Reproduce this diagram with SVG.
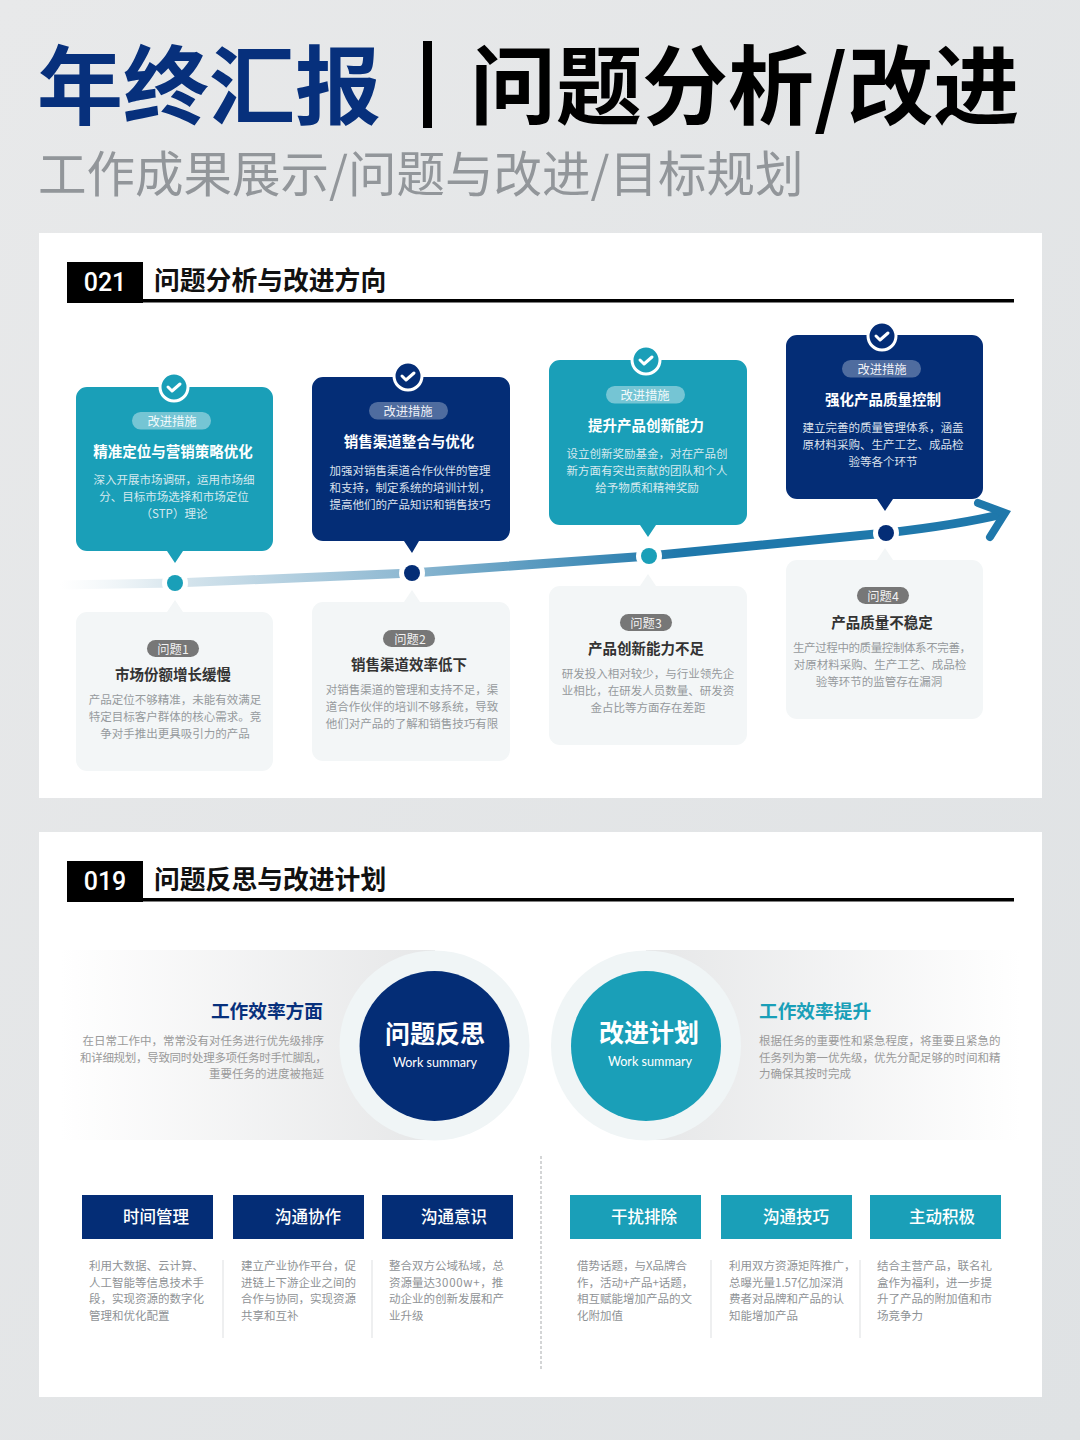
<svg xmlns="http://www.w3.org/2000/svg" width="1080" height="1440" viewBox="0 0 1080 1440">
<style>
text{font-family:"Noto Sans CJK SC","Noto Sans",sans-serif}
.c{text-anchor:middle}
.r{text-anchor:end}
.ti{font-size:14.5px;font-weight:700;fill:#fff}
.tb{font-size:11.5px;fill:#d6e9ef}
.tl{font-size:11.5px;fill:#dbe1ec}
.pill{font-size:12.3px;fill:#fff;fill-opacity:.92}
.qt{font-size:14.5px;font-weight:700;fill:#333}
.qb{font-size:11.5px;fill:#969a9d}
.qp{fill:#777}
.sh{font-size:25.8px;font-weight:700;fill:#111}
.no{font-size:25px;font-weight:500;fill:#fff;font-family:Roboto,sans-serif}
.bt{font-size:16.5px;font-weight:500;fill:#fff}
.bb{font-size:11.5px;fill:#8f9396}
.sb{font-size:11.5px;fill:#9a9a9a}
.ws{font-size:12.6px;fill:#fff;font-family:Lato,sans-serif}
.teal{fill:#1a9fb8}
.navy{fill:#042d76}
.q{fill:#f3f6f7}
.sep{stroke:#e3e5e7;stroke-width:1.2}
.chk{fill:none;stroke:#fff;stroke-width:3;stroke-linecap:round;stroke-linejoin:round}
</style>
<defs>
<linearGradient id="bg" x1="0" y1="0" x2="1" y2="1"><stop offset="0" stop-color="#e8e9ea"/><stop offset="1" stop-color="#dfe2e4"/></linearGradient>
<linearGradient id="ln" gradientUnits="userSpaceOnUse" x1="60" y1="0" x2="680" y2="0"><stop offset="0" stop-color="#eaf1f5" stop-opacity="0"/><stop offset=".17" stop-color="#dbe8ef"/><stop offset=".55" stop-color="#8fb9d2"/><stop offset="1" stop-color="#1f78ab"/></linearGradient>
<linearGradient id="fl" x1="0" x2="1" y1="0" y2="0"><stop offset="0" stop-color="#e6e7e8" stop-opacity="0"/><stop offset="1" stop-color="#e6e7e8"/></linearGradient>
<linearGradient id="fr" x1="1" x2="0" y1="0" y2="0"><stop offset="0" stop-color="#e6e7e8" stop-opacity="0"/><stop offset="1" stop-color="#e6e7e8"/></linearGradient>
</defs>
<rect width="1080" height="1440" fill="url(#bg)"/>
<g id="header">
<text x="37" y="118" font-size="86" font-weight="700" fill="#07307c">年终汇报</text>
<rect x="423" y="41" width="9" height="87" fill="#000"/>
<text x="470" y="118" font-size="86" font-weight="700" fill="#000">问题分析/改进</text>
<text x="38" y="192" font-size="48.5" fill="#92969a">工作成果展示/问题与改进/目标规划</text>
</g>
<rect x="39" y="233" width="1003" height="565" fill="#fff"/>
<rect x="39" y="832" width="1003" height="565" fill="#fff"/>
<g id="head1">
<rect x="67" y="262" width="76" height="41" fill="#000"/>
<rect x="67" y="299" width="947" height="3.5" fill="#000"/>
<text class="no c" x="105" y="291">021</text>
<text class="sh" x="154" y="290">问题分析与改进方向</text>
</g>
<g id="connectors">
<path d="M60 585 L175 583 L412 573 L649 556 L886 533 C930 528 970 522 1003 514" fill="none" stroke="url(#ln)" stroke-width="9"/>
<path d="M978 503 L1005 513 L990 537" fill="none" stroke="#1f78ab" stroke-width="8" stroke-linecap="round" stroke-linejoin="miter"/>
</g>
<g id="step1">
<path class="teal" d="M87 387H262a11 11 0 0 1 11 11V540a11 11 0 0 1-11 11H183L175 563L167 551H87a11 11 0 0 1-11-11V398a11 11 0 0 1 11-11Z"/>
<circle cx="174" cy="387" r="14" class="teal" stroke="#fff" stroke-width="3"/><path class="chk" d="M168 387l4 4 8-7"/>
<rect x="132" y="412" width="79" height="17.5" rx="8.7" fill="#fff" fill-opacity=".4"/>
<text class="pill c" x="172" y="425.5">改进措施</text>
<text class="ti c" x="173" y="457">精准定位与营销策略优化</text>
<g class="tb"><text class="c" x="174" y="484">深入开展市场调研，运用市场细</text><text class="c" x="174" y="501">分、目标市场选择和市场定位</text><text class="c" x="174" y="518">（STP）理论</text></g>
<circle cx="175" cy="583" r="13" fill="#fff"/><circle cx="175" cy="583" r="8" class="teal"/>
</g>
<g id="step2">
<path class="navy" d="M323 377H499a11 11 0 0 1 11 11V530a11 11 0 0 1-11 11H419L412 553L404 541H323a11 11 0 0 1-11-11V388a11 11 0 0 1 11-11Z"/>
<circle cx="408" cy="376" r="14" class="navy" stroke="#fff" stroke-width="3"/><path class="chk" d="M402 376l4 4 8-7"/>
<rect x="369" y="402" width="79" height="17.5" rx="8.7" fill="#fff" fill-opacity=".3"/>
<text class="pill c" x="408" y="415.5">改进措施</text>
<text class="ti c" x="409" y="447">销售渠道整合与优化</text>
<g class="tl"><text class="c" x="410" y="475">加强对销售渠道合作伙伴的管理</text><text class="c" x="410" y="492">和支持，制定系统的培训计划，</text><text class="c" x="410" y="509">提高他们的产品知识和销售技巧</text></g>
<circle cx="412" cy="573" r="13" fill="#fff"/><circle cx="412" cy="573" r="8" class="navy"/>
</g>
<g id="step3">
<path class="teal" d="M560 360H736a11 11 0 0 1 11 11V514a11 11 0 0 1-11 11H656L648 537L640 525H560a11 11 0 0 1-11-11V371a11 11 0 0 1 11-11Z"/>
<circle cx="646" cy="360" r="14" class="teal" stroke="#fff" stroke-width="3"/><path class="chk" d="M640 360l4 4 8-7"/>
<rect x="606" y="386" width="79" height="17.5" rx="8.7" fill="#fff" fill-opacity=".4"/>
<text class="pill c" x="645" y="399.5">改进措施</text>
<text class="ti c" x="646" y="431">提升产品创新能力</text>
<g class="tb"><text class="c" x="647" y="458">设立创新奖励基金，对在产品创</text><text class="c" x="647" y="475">新方面有突出贡献的团队和个人</text><text class="c" x="647" y="492">给予物质和精神奖励</text></g>
<circle cx="649" cy="556" r="13" fill="#fff"/><circle cx="649" cy="556" r="8" class="teal"/>
</g>
<g id="step4">
<path class="navy" d="M797 335H972a11 11 0 0 1 11 11V488a11 11 0 0 1-11 11H893L885 511L877 499H797a11 11 0 0 1-11-11V346a11 11 0 0 1 11-11Z"/>
<circle cx="882" cy="336" r="14" class="navy" stroke="#fff" stroke-width="3"/><path class="chk" d="M876 336l4 4 8-7"/>
<rect x="842" y="360" width="79" height="17.5" rx="8.7" fill="#fff" fill-opacity=".3"/>
<text class="pill c" x="882" y="373.5">改进措施</text>
<text class="ti c" x="883" y="405">强化产品质量控制</text>
<g class="tl"><text class="c" x="883" y="432">建立完善的质量管理体系，涵盖</text><text class="c" x="883" y="449">原材料采购、生产工艺、成品检</text><text class="c" x="883" y="466">验等各个环节</text></g>
<circle cx="886" cy="533" r="13" fill="#fff"/><circle cx="886" cy="533" r="8" class="navy"/>
</g>
<g id="problem1">
<path class="q" d="M87 612H167L175 600L183 612H262a11 11 0 0 1 11 11V760a11 11 0 0 1-11 11H87a11 11 0 0 1-11-11V623a11 11 0 0 1 11-11Z"/>
<rect x="147" y="640" width="52" height="17" rx="8.5" class="qp"/>
<text class="pill c" x="173" y="653.5">问题1</text>
<text class="qt c" x="173" y="680">市场份额增长缓慢</text>
<g class="qb"><text class="c" x="175" y="704">产品定位不够精准，未能有效满足</text><text class="c" x="175" y="721">特定目标客户群体的核心需求。竞</text><text class="c" x="175" y="738">争对手推出更具吸引力的产品</text></g>
</g>
<g id="problem2">
<path class="q" d="M323 602H404L412 590L420 602H499a11 11 0 0 1 11 11V750a11 11 0 0 1-11 11H323a11 11 0 0 1-11-11V613a11 11 0 0 1 11-11Z"/>
<rect x="383" y="630" width="52" height="17" rx="8.5" class="qp"/>
<text class="pill c" x="410" y="643.5">问题2</text>
<text class="qt c" x="409" y="670">销售渠道效率低下</text>
<g class="qb"><text class="c" x="412" y="694">对销售渠道的管理和支持不足，渠</text><text class="c" x="412" y="711">道合作伙伴的培训不够系统，导致</text><text class="c" x="412" y="728">他们对产品的了解和销售技巧有限</text></g>
</g>
<g id="problem3">
<path class="q" d="M560 586H640L648 574L656 586H736a11 11 0 0 1 11 11V734a11 11 0 0 1-11 11H560a11 11 0 0 1-11-11V597a11 11 0 0 1 11-11Z"/>
<rect x="620" y="614" width="52" height="17" rx="8.5" class="qp"/>
<text class="pill c" x="646" y="627.5">问题3</text>
<text class="qt c" x="646" y="654">产品创新能力不足</text>
<g class="qb"><text class="c" x="648" y="678">研发投入相对较少，与行业领先企</text><text class="c" x="648" y="695">业相比，在研发人员数量、研发资</text><text class="c" x="648" y="712">金占比等方面存在差距</text></g>
</g>
<g id="problem4">
<path class="q" d="M797 560H877L885 548L893 560H972a11 11 0 0 1 11 11V708a11 11 0 0 1-11 11H797a11 11 0 0 1-11-11V571a11 11 0 0 1 11-11Z"/>
<rect x="857" y="587" width="52" height="17" rx="8.5" class="qp"/>
<text class="pill c" x="883" y="601">问题4</text>
<text class="qt c" x="882" y="628">产品质量不稳定</text>
<g class="qb"><text x="793" y="652" letter-spacing="-.4">生产过程中的质量控制体系不完善，</text><text class="c" x="880" y="669">对原材料采购、生产工艺、成品检</text><text class="c" x="879" y="686">验等环节的监管存在漏洞</text></g>
</g>
<g id="head2">
<rect x="67" y="861" width="76" height="41" fill="#000"/>
<rect x="67" y="898" width="947" height="3.5" fill="#000"/>
<text class="no c" x="105" y="890">019</text>
<text class="sh" x="154" y="889">问题反思与改进计划</text>
</g>
<g id="reflect">
<rect x="60" y="950" width="375" height="190" fill="url(#fl)"/>
<circle cx="434.5" cy="1045.5" r="95" fill="#f0f5f6"/>
<circle cx="434.5" cy="1046" r="75" class="navy"/>
<text class="c" x="435" y="1043" font-size="25" font-weight="700" fill="#fff">问题反思</text>
<text class="ws c" x="435" y="1067">Work summary</text>
<text class="r" x="323" y="1018" font-size="18.7" font-weight="700" fill="#07307c">工作效率方面</text>
<g class="sb"><text class="r" x="324" y="1045">在日常工作中，常常没有对任务进行优先级排序</text><text x="80" y="1062" letter-spacing="-.3">和详细规划，导致同时处理多项任务时手忙脚乱，</text><text class="r" x="324" y="1078">重要任务的进度被拖延</text></g>
</g>
<g id="plan">
<rect x="646" y="950" width="375" height="190" fill="url(#fr)"/>
<circle cx="646" cy="1045.5" r="95" fill="#f0f5f6"/>
<circle cx="646" cy="1046" r="75" class="teal"/>
<text class="c" x="649" y="1042" font-size="25" font-weight="700" fill="#fff">改进计划</text>
<text class="ws c" x="650" y="1066">Work summary</text>
<text x="759" y="1018" font-size="18.7" font-weight="700" fill="#1a9fb8">工作效率提升</text>
<g class="sb"><text x="759" y="1045">根据任务的重要性和紧急程度，将重要且紧急的</text><text x="759" y="1062">任务列为第一优先级，优先分配足够的时间和精</text><text x="759" y="1078">力确保其按时完成</text></g>
</g>
<g id="dividers">
<path d="M541 1156V1371" stroke="#a8abad" stroke-width="1" stroke-dasharray="3 2" fill="none"/>
<path class="sep" d="M223 1260V1338M372 1260V1338M711 1260V1338M860 1260V1338"/>
</g>
<g id="item1"><rect x="82" y="1195" width="131" height="44" class="navy"/><text class="bt c" x="156" y="1223">时间管理</text>
<g class="bb"><text x="89" y="1270">利用大数据、云计算、</text><text x="89" y="1287">人工智能等信息技术手</text><text x="89" y="1303">段，实现资源的数字化</text><text x="89" y="1320">管理和优化配置</text></g></g>
<g id="item2"><rect x="233" y="1195" width="131" height="44" class="navy"/><text class="bt c" x="308" y="1223">沟通协作</text>
<g class="bb"><text x="241" y="1270">建立产业协作平台，促</text><text x="241" y="1287">进链上下游企业之间的</text><text x="241" y="1303">合作与协同，实现资源</text><text x="241" y="1320">共享和互补</text></g></g>
<g id="item3"><rect x="382" y="1195" width="131" height="44" class="navy"/><text class="bt c" x="454" y="1223">沟通意识</text>
<g class="bb"><text x="389" y="1270">整合双方公域私域，总</text><text x="389" y="1287">资源量达<tspan letter-spacing=".7">3000w+</tspan>，推</text><text x="389" y="1303">动企业的创新发展和产</text><text x="389" y="1320">业升级</text></g></g>
<g id="item4"><rect x="570" y="1195" width="131" height="44" class="teal"/><text class="bt c" x="644" y="1223">干扰排除</text>
<g class="bb"><text x="577" y="1270">借势话题，与X品牌合</text><text x="577" y="1287">作，活动+产品+话题，</text><text x="577" y="1303">相互赋能增加产品的文</text><text x="577" y="1320">化附加值</text></g></g>
<g id="item5"><rect x="721" y="1195" width="131" height="44" class="teal"/><text class="bt c" x="796" y="1223">沟通技巧</text>
<g class="bb"><text x="729" y="1270">利用双方资源矩阵推广，</text><text x="729" y="1287">总曝光量1.57亿加深消</text><text x="729" y="1303">费者对品牌和产品的认</text><text x="729" y="1320">知能增加产品</text></g></g>
<g id="item6"><rect x="870" y="1195" width="131" height="44" class="teal"/><text class="bt c" x="942" y="1223">主动积极</text>
<g class="bb"><text x="877" y="1270">结合主营产品，联名礼</text><text x="877" y="1287">盒作为福利，进一步提</text><text x="877" y="1303">升了产品的附加值和市</text><text x="877" y="1320">场竞争力</text></g></g>
</svg>
